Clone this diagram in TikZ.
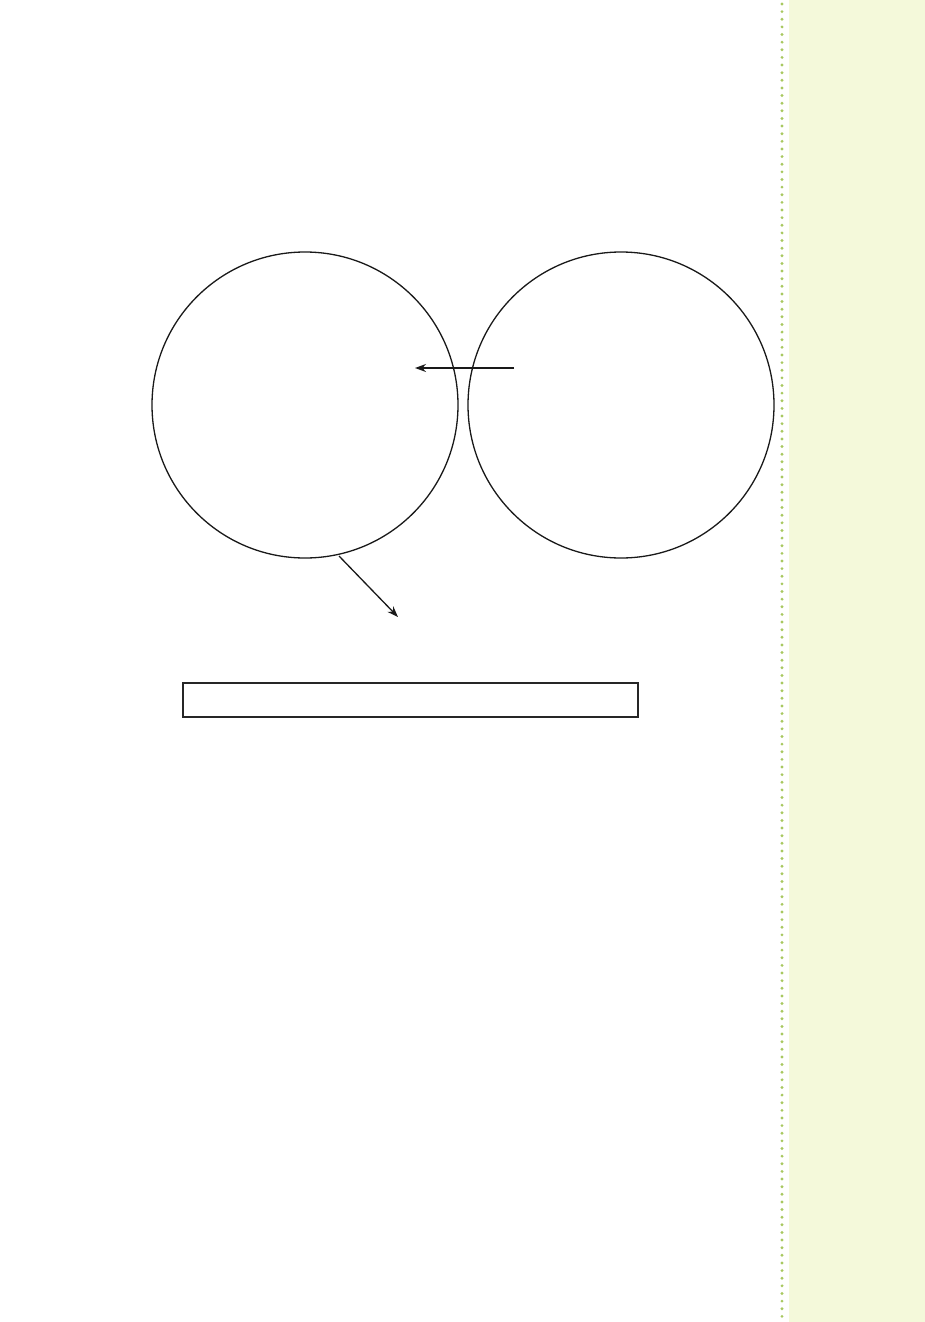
\documentclass[tikz,border=0pt]{standalone}
\usetikzlibrary{arrows.meta}
\definecolor{stripfill}{HTML}{F4F9DA}
\definecolor{dotgreen}{HTML}{A8C860}
\tikzset{
  ring/.style={circle, draw=black!90, line width=1.3pt, minimum size=306pt, inner sep=0pt},
  pointer/.style={draw=black!90, line width=1.3pt, -{Stealth[length=11pt,width=8pt]}},
  barbox/.style={draw=black!85, line width=2pt, minimum width=455pt, minimum height=34pt, inner sep=0pt},
  greendot/.style={fill=dotgreen, draw=none}
}
\begin{document}
\begin{tikzpicture}[x=1pt,y=-1pt]
\useasboundingbox (0,0) rectangle (925,1322);
\fill[white] (0,0) rectangle (925,1322);
\fill[stripfill] (789,0) rectangle (925,1322);
\foreach \i in {0,...,172} {
  \fill[greendot] (782,{4+7.63*\i}) circle (1.6pt);
}
\node[ring] (left) at (305,405) {};
\node[ring] (right) at (621,405) {};
\coordinate (a1s) at (514,368);
\coordinate (a1e) at (415,368);
\draw[pointer] (a1s) -- (a1e);
\coordinate (a2s) at (339,556);
\coordinate (a2e) at (398,617);
\draw[pointer] (a2s) -- (a2e);
\node[barbox] (bar) at (410.5,700) {};
\end{tikzpicture}
\end{document}
